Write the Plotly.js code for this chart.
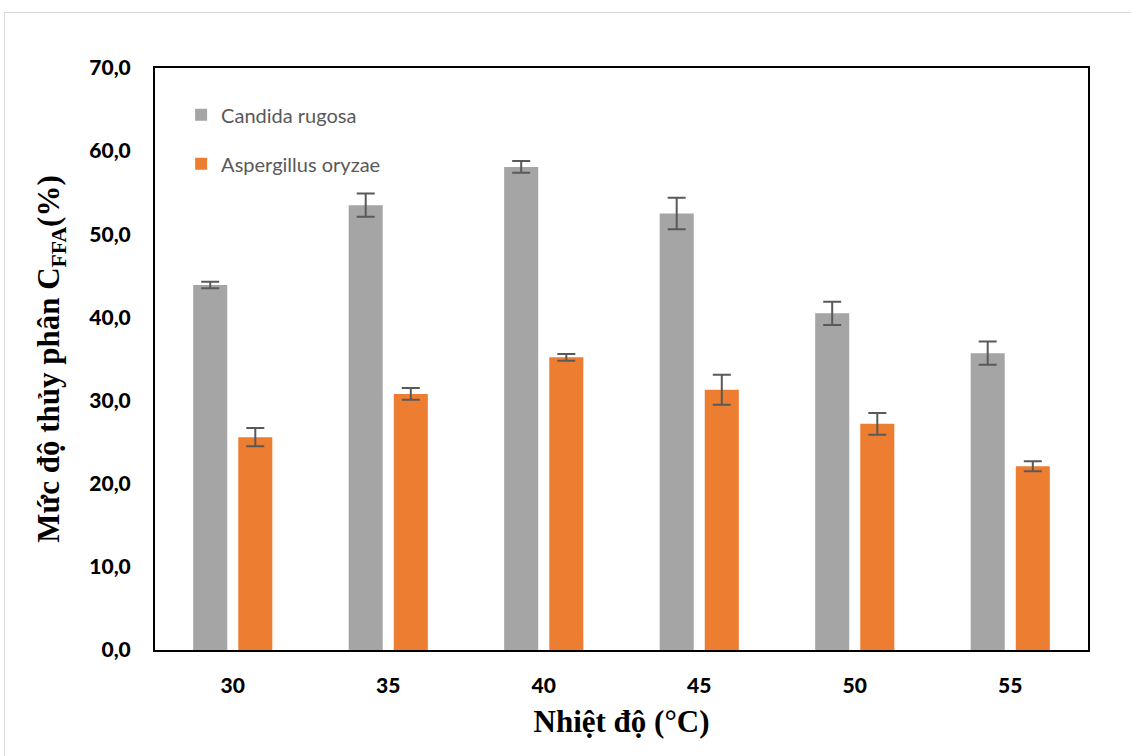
<!DOCTYPE html>
<html><head><meta charset="utf-8">
<script src="https://cdn.plot.ly/plotly-3.0.1.min.js"></script>
<style>
html,body{margin:0;padding:0;background:#fff;}
#frame{position:absolute;left:4px;top:12px;width:1140px;height:760px;border:1px solid #d9d9d9;box-sizing:border-box;pointer-events:none;}
#chart{position:absolute;left:0;top:0;width:1131px;height:756px;}
</style></head>
<body>
<div id="chart"></div>
<div id="frame"></div>
<script>
const categories = ['30','35','40','45','50','55'];
const candida = [43.9, 53.5, 58.1, 52.5, 40.5, 35.7];
const candidaErr = [0.4, 1.4, 0.7, 1.9, 1.4, 1.4];
const aspergillus = [25.6, 30.8, 35.2, 31.3, 27.2, 22.1];
const aspergillusErr = [1.1, 0.7, 0.4, 1.8, 1.3, 0.6];
const yTicks = [0,10,20,30,40,50,60,70];

const errStyle = {type:'data', visible:true, color:'#595959', thickness:2, width:9};
const traces = [
  {type:'bar', name:'Candida rugosa', x:categories, y:candida, legendgroup:'a',
   marker:{color:'#a5a5a5'}, error_y:Object.assign({array:candidaErr}, errStyle)},
  {type:'bar', name:'Aspergillus oryzae', x:categories, y:aspergillus, legendgroup:'b',
   marker:{color:'#ed7d31'}, error_y:Object.assign({array:aspergillusErr}, errStyle)}
];
const tickFont = {family:'Lato, sans-serif', size:21, color:'#000', weight:900};
const titleFont = {family:'"Liberation Serif", "Times New Roman", serif', size:31, color:'#000', weight:'bold'};
const layout = {
  width:1131, height:756,
  margin:{l:155, r:43, t:68, b:106},
  paper_bgcolor:'rgba(0,0,0,0)', plot_bgcolor:'#fff',
  separators:',.',
  barmode:'group', bargap:0.42, bargroupgap:0.245,
  showlegend:true,
  legend:{x:0.028, y:0.953, xanchor:'left', yanchor:'top', bgcolor:'rgba(0,0,0,0)',
    traceorder:'grouped', tracegroupgap:20,
    font:{family:'Lato, "Open Sans", sans-serif', size:20, color:'#595959'}},
  xaxis:{type:'category', showline:true, linecolor:'#000', linewidth:2, mirror:true,
    ticks:'', showgrid:false, zeroline:false, ticklabelstandoff:16,
    tickfont:tickFont,
    title:{text:'Nhiệt độ (°C)', standoff:14, font:titleFont}},
  yaxis:{range:[0,70], tickvals:yTicks, tickformat:'.1f', showline:true, linecolor:'#000', linewidth:2,
    mirror:true, ticks:'', showgrid:false, zeroline:false, ticklabelstandoff:18,
    tickfont:tickFont,
    title:{text:'Mức độ thủy phân C<sub>FFA</sub>(%)', standoff:20, font:titleFont}}
};
Plotly.newPlot('chart', traces, layout, {displayModeBar:false, staticPlot:true});
</script>
</body></html>
